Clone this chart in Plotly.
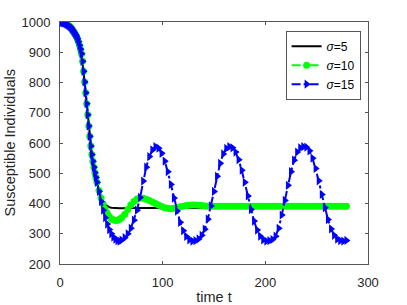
import plotly.graph_objects as go

# time grid (solver output points)
t = [0, 1, 2, 3, 4, 5, 6, 7, 8, 9, 10, 11, 12, 13, 14, 15, 16, 17, 18, 19, 20,
     21, 22, 23, 24, 25, 26, 27, 28, 29, 30, 31, 32, 33, 34, 35, 36,
     38, 40, 42, 44, 46, 48, 50, 52, 54, 56, 58, 60,
     63, 66, 69, 72, 75, 78, 81, 84, 87, 90, 93,
     96, 99, 102, 105, 108, 111, 114, 117, 120, 123, 126, 129,
     132, 135, 138, 141, 144, 147, 150, 153, 156, 159, 162, 165,
     168, 171, 174, 177, 180, 183, 186, 189, 192, 195, 198, 201,
     204, 207, 210, 213, 216, 219, 222, 225, 228, 231, 234, 237,
     240, 243, 246, 249, 252, 255, 258, 261, 264, 267, 270, 273, 276, 279]

s_sigma5 = [1000, 1000, 999, 998, 997, 996, 994, 992, 990, 987, 984, 980, 975, 970, 965, 959, 953, 945, 935, 923, 910,
            895, 870, 837, 802, 766, 730, 693, 656, 622, 590, 562, 540, 520, 502, 486, 470,
            445, 422, 406, 396, 391, 388, 386, 385, 385, 384, 384, 384,
            385, 385, 385, 385, 385, 385, 385, 385, 385, 385, 385,
            385, 385, 385, 385, 385, 385, 385, 385, 385, 385, 385, 385,
            385, 385, 385, 385, 385, 385, 385, 385, 385, 385, 385, 385,
            385, 385, 385, 385, 385, 385, 385, 385, 385, 385, 385, 385,
            385, 385, 385, 385, 385, 385, 385, 385, 385, 385, 385, 385,
            385, 385, 385, 385, 385, 385, 385, 385, 385, 385, 385, 385, 385, 385]

s_sigma10 = [1000, 1000, 999, 998, 997, 996, 994, 992, 990, 987, 984, 980, 975, 970, 965, 959, 953, 945, 935, 923, 910,
             895, 870, 837, 802, 766, 730, 693, 656, 622, 590, 562, 540, 520, 502, 486, 470,
             443, 418, 398, 382, 368, 357, 349, 346, 344, 345, 348, 353,
             364, 380, 395, 407, 415, 418, 417, 414, 410, 405, 400,
             395, 390, 386, 384, 383, 384, 386, 389, 391, 393, 394, 395,
             395, 394, 393, 392, 391, 391, 391, 391, 391, 391, 391, 391,
             391, 391, 391, 391, 391, 391, 391, 391, 391, 391, 391, 391,
             391, 391, 391, 391, 391, 391, 391, 391, 391, 391, 391, 391,
             391, 391, 391, 391, 391, 391, 391, 391, 391, 391, 391, 391, 391, 391]

s_sigma15 = [1000, 1000, 999, 998, 997, 996, 994, 992, 990, 987, 984, 980, 975, 970, 965, 959, 953, 945, 935, 923, 910,
             895, 870, 837, 802, 766, 730, 693, 656, 622, 590, 562, 540, 520, 502, 486, 470,
             440, 407, 378, 353, 332, 314, 300, 289, 282, 277, 276, 279,
             287, 300, 318, 345, 378, 420, 474, 520, 555, 577, 588,
             583, 566, 540, 505, 463, 418, 375, 338, 310, 291, 280, 276,
             277, 283, 295, 315, 348, 392, 440, 490, 533, 564, 582, 588,
             584, 570, 545, 510, 470, 425, 380, 342, 312, 292, 280, 276,
             277, 281, 292, 318, 362, 410, 460, 505, 543, 570, 584, 588,
             586, 574, 550, 516, 475, 430, 386, 347, 316, 295, 282, 277, 276, 278]

x_ticks = [0, 100, 200, 300]
y_ticks = [200, 300, 400, 500, 600, 700, 800, 900, 1000]
x_title = "time t"
y_title = "Susceptible Individuals"

FONT = "Liberation Sans, Arial, Helvetica, sans-serif"
AX = "#262626"

fig = go.Figure()
fig.add_trace(go.Scatter(x=t, y=s_sigma5, mode="lines", name="<i>σ</i>=5",
                         line=dict(color="#000000", width=2)))
fig.add_trace(go.Scatter(x=t, y=s_sigma10, mode="lines+markers", name="<i>σ</i>=10",
                         line=dict(color="#00ff00", width=2, dash="dash"),
                         marker=dict(symbol="circle", size=7, color="#00ff00",
                                     line=dict(width=0))))
fig.add_trace(go.Scatter(x=t, y=s_sigma15, mode="lines+markers", name="<i>σ</i>=15",
                         line=dict(color="#0000ff", width=2, dash="dashdot"),
                         marker=dict(symbol="triangle-right", size=8, color="#0000ff",
                                     line=dict(width=0))))

axis_common = dict(showline=True, linecolor="#555555", linewidth=1, mirror="ticks",
                   ticks="inside", ticklen=3, tickcolor="#555555", showgrid=False,
                   zeroline=False, automargin=False,
                   tickfont=dict(family=FONT, size=13, color=AX))

fig.update_xaxes(range=[0, 300], tickvals=x_ticks,
                 title=dict(text=x_title, font=dict(family=FONT, size=14.5, color=AX)),
                 ticklabelstandoff=6, **axis_common)
fig.update_yaxes(range=[200, 1000], tickvals=y_ticks,
                 ticklabelstandoff=6, **axis_common)

fig.add_annotation(text=y_title, xref="paper", yref="paper", x=0, y=0.5,
                   xanchor="center", yanchor="middle", xshift=-50.5, textangle=-90,
                   showarrow=False, font=dict(family=FONT, size=14.5, color=AX))

fig.update_layout(
    width=407, height=305,
    margin=dict(l=60, r=39, t=22, b=41, pad=0),
    paper_bgcolor="white", plot_bgcolor="white",
    font=dict(family=FONT, color=AX),
    showlegend=True,
    legend=dict(x=0.976, y=0.964, xanchor="right", yanchor="top",
                bgcolor="white", bordercolor="#555555", borderwidth=1,
                font=dict(family=FONT, size=12, color="#000000"),
                itemwidth=30, tracegroupgap=0),
)

fig.write_html("out.html", config={"displayModeBar": False},
               post_script="document.body.style.margin='0';")
